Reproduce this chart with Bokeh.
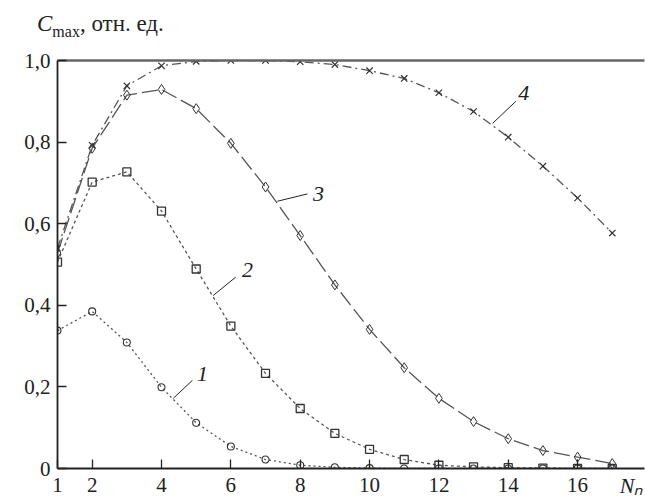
from bokeh.plotting import figure
from bokeh.models import FixedTicker, LinearAxis, Label, Range1d, Div
from bokeh.layouts import column
from bokeh.embed import file_html
from bokeh.resources import INLINE

# ---- data ----
n = list(range(1, 18))
c1 = [0.338, 0.385, 0.309, 0.199, 0.112, 0.054, 0.022, 0.008, 0.003, 0.001, 0.0, 0.0, 0.0, 0.0, 0.0, 0.0, 0.0]
c2 = [0.506, 0.702, 0.727, 0.631, 0.489, 0.349, 0.233, 0.147, 0.086, 0.047, 0.022, 0.008, 0.004, 0.002, 0.001, 0.0, 0.0]
c3 = [0.528, 0.785, 0.915, 0.929, 0.882, 0.797, 0.690, 0.571, 0.450, 0.341, 0.247, 0.172, 0.115, 0.073, 0.044, 0.028, 0.012]
c4 = [0.540, 0.792, 0.938, 0.987, 0.998, 1.000, 1.000, 0.997, 0.990, 0.975, 0.956, 0.921, 0.875, 0.812, 0.741, 0.663, 0.577]

x_ticks = [1, 2, 4, 6, 8, 10, 12, 14, 16]
y_ticks = [0, 0.2, 0.4, 0.6, 0.8, 1.0]
y_tick_labels = ["0", "0,2", "0,4", "0,6", "0,8", "1,0"]

curve_labels = ["1", "2", "3", "4"]
# label text positions and leader lines (data coords)
label_pos = [(5.18, 0.232), (6.48, 0.487), (8.53, 0.672), (14.45, 0.92)]
leader_start = [(4.34, 0.172), (5.49, 0.424), (7.34, 0.655), (13.55, 0.846)]
leader_end = [(4.89, 0.216), (6.14, 0.469), (8.21, 0.673), (14.22, 0.900)]

FONT = "'Liberation Serif', 'Times New Roman', serif"
LC = "#555555"
MC = "#333333"

title = Div(
    text='<i>C</i><sub style="font-size:16px;">max</sub>, отн. ед.',
    width=645, height=45, margin=(0, 0, 0, 0),
    styles={"padding-left": "37px", "padding-top": "8px", "box-sizing": "border-box",
            "font-family": FONT, "font-size": "23px",
            "color": "#222222", "white-space": "nowrap"})

p = figure(width=645, height=456, output_backend="svg", toolbar_location=None,
           x_range=Range1d(1, 17.93), y_range=Range1d(0, 1.0),
           min_border_left=57, min_border_right=1, min_border_top=15, min_border_bottom=33,
           x_axis_location="below", margin=(0, 0, 0, 0))
p.outline_line_color = None
p.grid.visible = False
p.background_fill_color = "white"
p.border_fill_color = "white"

# series
p.line(n, c1, line_color=LC, line_width=1.3, line_dash="2 3")
p.scatter(n, c1, marker="circle", size=7, fill_alpha=0, line_color=MC, line_width=1.1)

p.line(n, c2, line_color=LC, line_width=1.3, line_dash="3 3")
p.scatter(n, c2, marker="square", size=8, fill_alpha=0, line_color=MC, line_width=1.3)

p.line(n, c3, line_color=LC, line_width=1.3, line_dash="16 5")
p.scatter(n, c3, marker="diamond", size=10, fill_alpha=0, line_color=MC, line_width=1.0)

p.line(n, c4, line_color=LC, line_width=1.3, line_dash="9 4 2 4")
p.scatter(n, c4, marker="x", size=9, line_color=MC, line_width=1.2)

# leaders
for (x0, y0), (x1, y1) in zip(leader_start, leader_end):
    p.segment(x0=[x0], y0=[y0], x1=[x1], y1=[y1], line_color="#222222", line_width=1)

for t, (x, y) in zip(curve_labels, label_pos):
    p.add_layout(Label(x=x, y=y, text=t, text_font=FONT, text_font_style="italic",
                       text_font_size="22px", text_align="center", text_baseline="middle",
                       text_color="#222222"))

# axes
xa = p.xaxis[0]
xa.ticker = FixedTicker(ticks=x_ticks)
ya = p.yaxis[0]
ya.ticker = FixedTicker(ticks=y_ticks)
ya.major_label_overrides = {v: s for v, s in zip(y_ticks, y_tick_labels)}
for ax in (xa, ya):
    ax.major_tick_in = 9
    ax.major_tick_out = 0
    ax.minor_tick_line_color = None
    ax.axis_line_color = "#222222"
    ax.axis_line_width = 1.8
    ax.major_tick_line_color = "#222222"
    ax.major_tick_line_width = 1.3
    ax.major_label_text_font = FONT
    ax.major_label_text_font_size = "21px"
    ax.major_label_text_color = "#222222"
xa.major_label_standoff = 9
ya.major_label_standoff = 7

# x axis title: italic N with subscript n, pushed right into the tick-label row
xa.axis_label = "\u00a0" * 102 + "Nₙ"
xa.axis_label_text_font = FONT
xa.axis_label_text_font_style = "italic"
xa.axis_label_text_font_size = "22px"
xa.axis_label_text_color = "#222222"
xa.axis_label_standoff = -22

top = LinearAxis(ticker=FixedTicker(ticks=[]), major_label_text_font_size="0px",
                 axis_line_color="#666666", axis_line_width=2.5,
                 major_tick_line_color=None, minor_tick_line_color=None)
p.add_layout(top, "above")

layout = column(title, p, spacing=0, margin=(0, 0, 0, 0))
open("out.html", "w").write(file_html(layout, INLINE))
